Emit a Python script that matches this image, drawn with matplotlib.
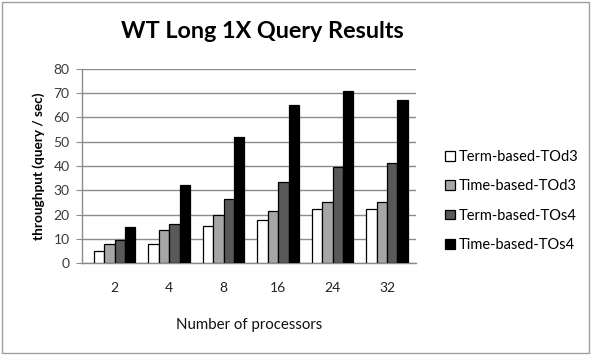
import matplotlib
matplotlib.use("Agg")
import matplotlib.pyplot as plt
from matplotlib.patches import Rectangle
import numpy as np

categories = ["2", "4", "8", "16", "24", "32"]
series_names = ["Term-based-TOd3", "Time-based-TOd3", "Term-based-TOs4", "Time-based-TOs4"]
term_tod3 = [5, 8, 15.4, 17.8, 22.2, 22.2]
time_tod3 = [8, 13.5, 20, 21.4, 25, 25]
term_tos4 = [9.5, 15.9, 26.3, 33.5, 39.4, 41.4]
time_tos4 = [15, 32.2, 52, 65, 70.9, 67.4]
series_values = [term_tod3, time_tod3, term_tos4, time_tos4]
colors = ["#ffffff", "#a6a6a6", "#595959", "#000000"]

plt.rcParams['font.family'] = ['Lato', 'DejaVu Sans']

fig = plt.figure(figsize=(5.92, 3.55), dpi=100)
ax = fig.add_axes([82/592, 1-263/355, (416-82)/592, (263-69)/355])

x = np.arange(len(categories))
bw = 0.19
for i, (name, vals, c) in enumerate(zip(series_names, series_values, colors)):
    ax.bar(x + (i - 1.5) * bw, vals, bw, color=c, edgecolor="black", linewidth=0.9,
           label=name, zorder=3)

ax.set_xlim(-0.6, 5.53)
ax.set_ylim(0, 80)
ax.set_yticks(range(0, 81, 10))
ax.set_xticks(x)
ax.set_xticklabels(categories)
ax.yaxis.grid(True, color="#8c8c8c", linewidth=1, zorder=0)
ax.set_axisbelow(True)
for s in ["top", "right"]:
    ax.spines[s].set_visible(False)
for s in ["left", "bottom"]:
    ax.spines[s].set_color("#8c8c8c")
    ax.spines[s].set_linewidth(1)
ax.tick_params(axis="y", length=4, color="#8c8c8c", labelsize=10, labelcolor="#3a3a3a", pad=5)
ax.tick_params(axis="x", length=0, labelsize=10, labelcolor="#222222", pad=14)

ax.set_ylabel("throughput (query / sec)", fontsize=9.8, fontweight="bold", labelpad=6)
ax.set_xlabel("Number of processors", fontsize=10.8, labelpad=17, color="#111111")

fig.text(262/592, 1-31/355, "WT Long 1X Query Results", ha="center", va="center",
         fontsize=16.8, fontweight="bold")

ax.legend(loc="center left", bbox_to_anchor=(438/592, 1-201/355), bbox_transform=fig.transFigure,
          frameon=False, fontsize=10.5, handlelength=0.65, handleheight=0.65, handletextpad=0.3,
          labelspacing=1.05, borderpad=0)

fig.patches.append(Rectangle((2/592, 2/355), 587/592, 351/355, transform=fig.transFigure,
                             fill=False, edgecolor="#a0a0a0", linewidth=1))

fig.savefig("out.png", dpi=100)
